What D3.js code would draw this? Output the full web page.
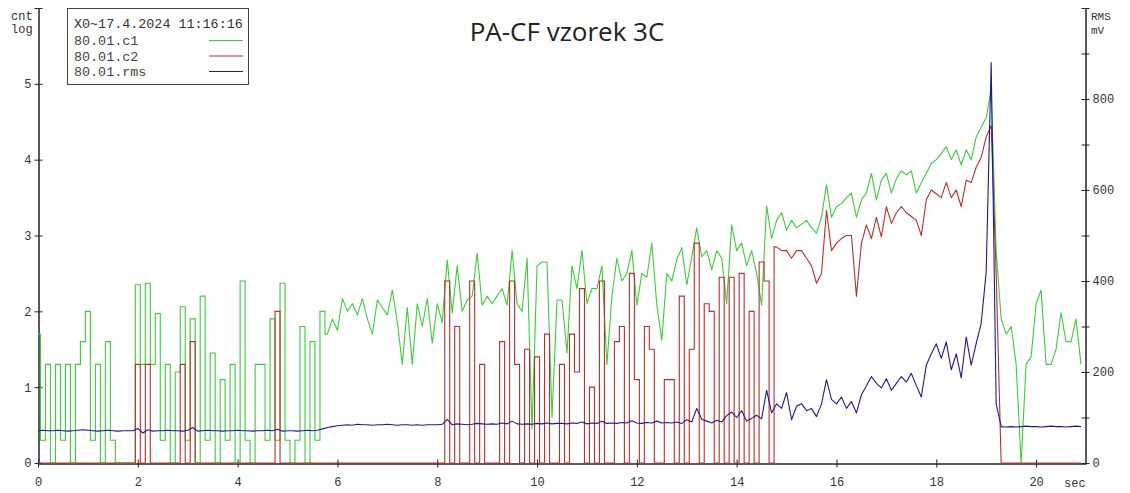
<!DOCTYPE html>
<html><head><meta charset="utf-8">
<script src="https://cdn.jsdelivr.net/npm/d3@7"></script>
<style>body{margin:0;background:#fff}svg{display:block}</style>
</head><body><svg id="c" width="1130" height="493"></svg>
<script>
const title = "PA-CF vzorek 3C";
const legendHeader = "X0~17.4.2024 11:16:16";
const seriesNames = ["80.01.c1", "80.01.c2", "80.01.rms"];
const seriesColors = ["#3ccc3c", "#b8302c", "#1c1c8e"];
const xTicks = [0, 2, 4, 6, 8, 10, 12, 14, 16, 18, 20];
const leftTicks = [0, 1, 2, 3, 4, 5, 6];
const leftLabels = ["0", "1", "2", "3", "4", "5", ""];
const rightTicks = [0, 100, 200, 300, 400, 500, 600, 700, 800, 900, 1000];
const rightLabels = ["0", "", "200", "", "400", "", "600", "", "800", "", ""];
const sampleStep = 0.1; // seconds between samples
// pulsed (on/off) phase of each count channel, drawn as steps like the instrument plot
const c1PulsedUntil = 5.8;
const c2PulsedUntil = 14.75;

// c1 counts (log), one row per second
const c1 = [
 1.7,0.3,1.3,0,1.3,0.3,1.3,0,1.3,1.6,
 2.0,0.3,1.3,0,1.6,0.3,0,0,0,0,
 2.35,1.3,2.37,1.3,1.97,0.3,1.3,0,1.2,2.06,
 0.3,1.9,0,2.2,0.3,1.45,0,1.1,0.3,1.3,
 0,2.4,0.3,0,1.3,1.3,0.3,1.9,0.3,2.37,
 0.3,0,0.3,1.8,0,1.6,0.3,2.0,1.7,1.9,
 1.75,2.17,2.0,2.1,1.95,2.17,1.9,1.7,2.15,2.05,
 1.95,2.28,1.86,1.3,2.05,1.3,2.1,1.8,2.17,1.58,
 2.1,1.85,2.68,1.98,2.6,2.0,2.15,2.2,2.77,2.08,
 2.2,2.1,2.2,2.3,2.08,2.8,2.1,2.0,2.7,0.45,
 2.6,2.65,2.65,0.6,2.15,2.15,1.45,2.6,2.3,2.8,
 2.1,2.3,2.3,2.6,1.3,2.2,2.7,2.4,2.5,2.8,
 2.08,2.5,2.45,2.9,2.08,1.62,2.5,2.4,2.68,2.84,
 2.35,2.72,3.1,2.72,2.8,2.55,2.8,2.7,2.1,3.14,
 2.8,2.9,2.6,2.8,2.5,2.08,3.39,2.96,3.2,3.3,
 3.07,3.2,3.1,3.15,3.2,3.1,3.03,3.24,3.67,3.24,
 3.38,3.42,3.5,3.56,3.24,3.47,3.56,3.82,3.47,3.73,
 3.82,3.56,3.75,3.85,3.8,3.85,3.56,3.7,3.82,3.95,
 4.0,4.08,4.17,4.0,4.13,3.93,4.13,4.0,4.3,4.43,
 4.55,4.92,2.8,1.9,1.7,1.8,1.3,0,1.3,1.4,
 2.1,2.28,1.3,1.3,1.5,1.98,1.6,1.6,1.9,1.3
];

// c2 counts (log)
const c2 = [
 0,0,0,0,0,0,0,0,0,0,
 0,0,0,0,0,0,0,0,0,0,
 1.3,0,1.3,0,0,0,0,0,0,1.3,
 0,1.6,0,0,0,0,0,0,0,0,
 0,0,0,0,0,0,0,0,2.0,0,
 0,0,0,0,0,0,0,0,0,0,
 0,0,0,0,0,0,0,0,0,0,
 0,0,0,0,0,0,0,0,0,0,
 0,0,2.4,0,1.8,0,0,2.4,0,1.3,
 0,0,0,1.6,0,2.4,1.3,0,1.5,0,
 1.4,0,1.7,0,0,1.3,0,1.7,1.2,2.3,
 0,1.0,0,2.4,0,0,1.6,1.8,0,2.5,
 1.1,0,1.8,1.5,0,0,1.1,1.1,0,2.2,
 0,1.5,2.9,0,2.1,2.0,0,2.45,0,2.45,
 0,2.5,0,2.0,0,2.65,2.4,0,2.85,2.8,
 2.8,2.7,2.8,2.8,2.7,2.6,2.37,2.5,3.33,2.8,
 2.9,2.96,3.0,3.0,2.2,2.9,3.14,2.96,3.24,2.98,
 3.38,3.16,3.3,3.38,3.3,3.25,3.2,3.0,3.47,3.6,
 3.55,3.5,3.7,3.5,3.6,3.38,3.73,3.7,3.9,4.03,
 4.3,4.45,2.5,0,0,0,0,0,0,0,
 0,0,0,0,0,0,0,0,0,0
];

// rms in mV
const rms = [
 71,72,71,71,72,71,70,71,72,73,
 72,71,70,71,72,71,70,71,71,71,
 76,66,73,70,71,71,72,71,71,70,
 72,78,70,71,72,71,71,70,71,71,
 72,71,71,70,71,71,72,71,74,70,
 71,71,70,71,72,71,72,75,78,80,
 82,83,84,83,85,84,84,83,84,84,
 85,84,83,84,84,83,84,83,84,84,
 84,85,96,84,86,85,84,85,87,86,
 85,86,85,88,86,92,86,85,86,85,
 87,86,88,86,87,87,86,88,87,90,
 86,88,87,92,87,88,87,89,88,93,
 88,87,89,88,92,88,89,88,90,87,
 95,90,120,96,92,88,94,90,104,112,
 100,115,92,98,105,97,160,110,130,120,
 155,95,125,130,115,120,102,130,183,140,
 130,145,120,135,110,150,170,190,175,165,
 185,160,175,190,178,197,170,145,215,240,
 262,230,266,205,240,187,277,215,263,307,
 420,880,130,80,79,80,79,80,81,80,
 80,79,80,81,80,80,79,80,81,80
];

const svg = d3.select("#c");
const x = d3.scaleLinear().domain([0, 21]).range([38, 1086]);
const yL = d3.scaleLinear().domain([0, 6]).range([463, 8]);
const yR = d3.scaleLinear().domain([0, 1000]).range([463, 8]);
const mono = "'Liberation Mono', 'DejaVu Sans Mono', monospace";

function styleAxis(g) {
  g.selectAll("path.domain").attr("stroke", "#222");
  g.selectAll(".tick line").attr("stroke", "#222");
  g.selectAll(".tick text").attr("fill", "#333").style("font-family", mono).style("font-size", "12px");
}

// bottom axis (ticks crossing the line)
svg.append("g").attr("transform", "translate(0,463.5)")
  .call(d3.axisBottom(x).tickValues(xTicks).tickSizeInner(4).tickSizeOuter(0).tickPadding(10).tickFormat(d3.format("d")))
  .call(styleAxis);
svg.append("g").attr("transform", "translate(0,463.5)")
  .call(d3.axisTop(x).tickValues(xTicks).tickSizeInner(4).tickSizeOuter(0).tickFormat(""))
  .call(styleAxis);

// left axis
svg.append("g").attr("transform", "translate(38.5,0)")
  .call(d3.axisLeft(yL).tickValues(leftTicks).tickSizeInner(4).tickSizeOuter(0).tickPadding(3).tickFormat((d, i) => leftLabels[i]))
  .call(styleAxis);
svg.append("g").attr("transform", "translate(38.5,0)")
  .call(d3.axisRight(yL).tickValues(leftTicks).tickSizeInner(4).tickSizeOuter(0).tickFormat(""))
  .call(styleAxis);

// right axis
svg.append("g").attr("transform", "translate(1085.5,0)")
  .call(d3.axisRight(yR).tickValues(rightTicks).tickSizeInner(4).tickSizeOuter(0).tickPadding(3).tickFormat((d, i) => rightLabels[i]))
  .call(styleAxis);
svg.append("g").attr("transform", "translate(1085.5,0)")
  .call(d3.axisLeft(yR).tickValues(rightTicks).tickSizeInner(4).tickSizeOuter(0).tickFormat(""))
  .call(styleAxis);

// axis unit labels
const unit = svg.append("g").style("font-family", mono).attr("fill", "#333");
unit.append("text").attr("x", 11).attr("y", 20).style("font-size", "12px").text("cnt");
unit.append("text").attr("x", 11).attr("y", 33).style("font-size", "12px").text("log");
unit.append("text").attr("x", 1091).attr("y", 20).style("font-size", "11px").text("RMS");
unit.append("text").attr("x", 1091).attr("y", 34).style("font-size", "11px").text("mV");
unit.append("text").attr("x", 1064).attr("y", 487).style("font-size", "12px").text("sec");

// series
const idx = d3.range(c1.length);
function drawSeries(vals, y, color, pulsedUntil) {
  const cut = pulsedUntil == null ? 0 : Math.round(pulsedUntil / sampleStep);
  const pulsed = idx.slice(0, cut + 1);
  const smooth = idx.slice(cut);
  const stepLine = d3.line().curve(d3.curveStep).x(i => x(i * sampleStep)).y(i => y(vals[i]));
  const linLine = d3.line().x(i => x(i * sampleStep)).y(i => y(vals[i]));
  if (pulsed.length > 1) {
    svg.append("path").attr("d", stepLine(pulsed)).attr("fill", "none")
      .attr("stroke", color).attr("stroke-width", 1.1);
  }
  svg.append("path").attr("d", linLine(smooth)).attr("fill", "none")
    .attr("stroke", color).attr("stroke-width", 1.1).attr("stroke-linejoin", "round");
}
drawSeries(c1, yL, seriesColors[0], c1PulsedUntil);
drawSeries(c2, yL, seriesColors[1], c2PulsedUntil);
drawSeries(rms, yR, seriesColors[2], null);

// title
svg.append("text").attr("x", 567).attr("y", 41).attr("text-anchor", "middle")
  .style("font-family", "'Open Sans', 'Noto Sans', sans-serif").style("font-size", "26px")
  .attr("fill", "#222").text(title);

// legend
const lg = svg.append("g").style("font-family", mono).style("font-size", "13.4px");
lg.append("rect").attr("x", 67.5).attr("y", 8.5).attr("width", 181).attr("height", 76)
  .attr("fill", "#fff").attr("stroke", "#444");
lg.append("text").attr("x", 74).attr("y", 28).attr("fill", "#333").text(legendHeader);
seriesNames.forEach((n, i) => {
  const yy = 45 + i * 15.5;
  lg.append("text").attr("x", 74).attr("y", yy).attr("fill", "#444").text(n);
  lg.append("line").attr("x1", 209).attr("x2", 243).attr("y1", yy - 4.5).attr("y2", yy - 4.5)
    .attr("stroke", seriesColors[i]).attr("stroke-width", 1.2);
});
</script></body></html>
